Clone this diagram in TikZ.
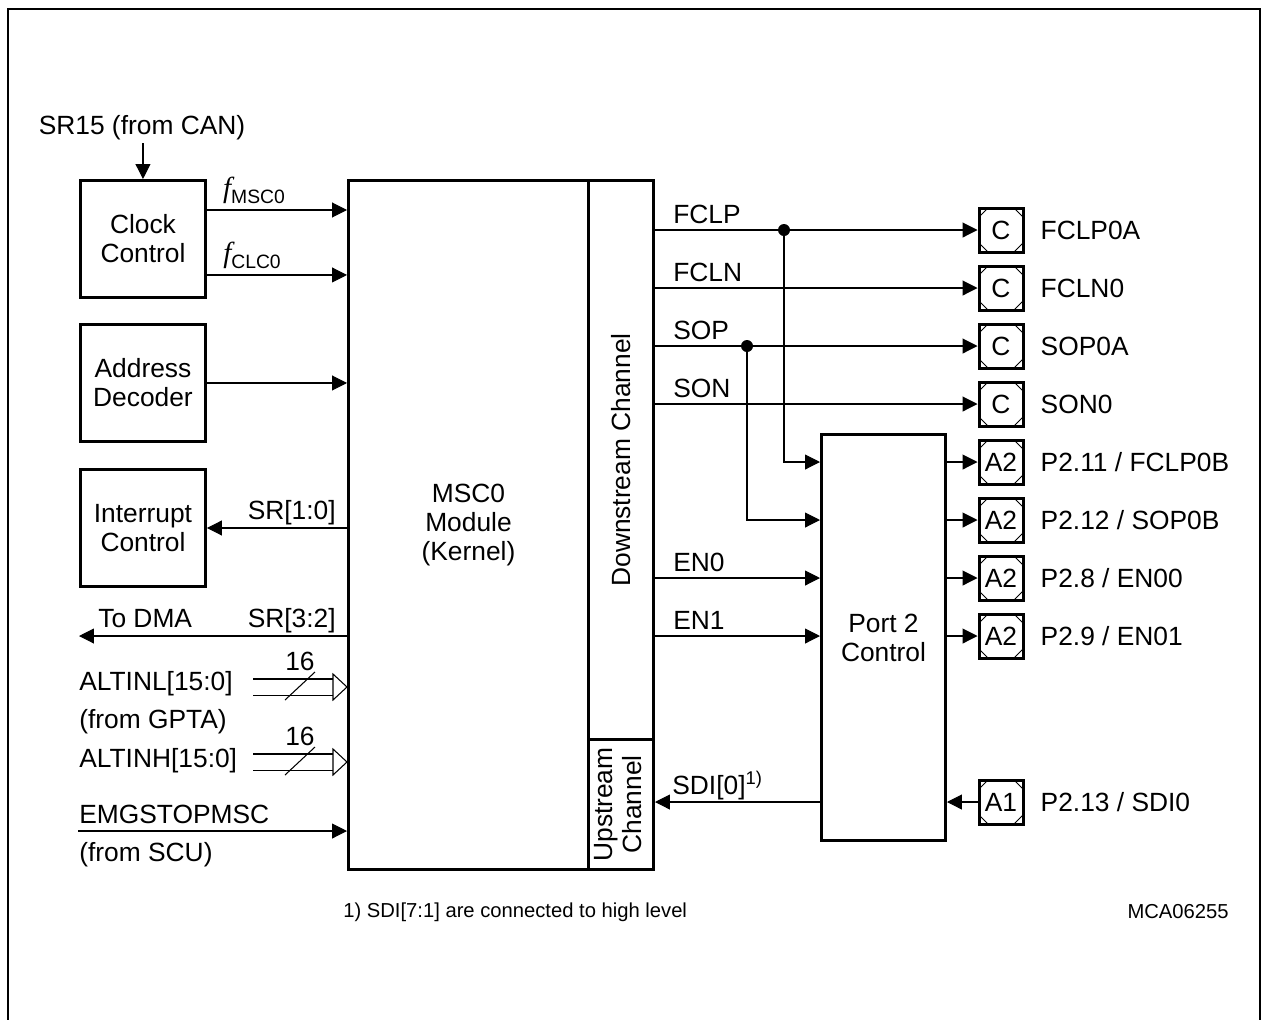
\documentclass[tikz,border=0pt]{standalone}
\usepackage{fontspec}
\setmainfont{Liberation Sans}
\newfontfamily\fserif{Liberation Serif}
\usepackage{tikz}
\usetikzlibrary{
  arrows.meta,
  positioning,
  calc
}
\newcommand{\mscfont}{\fontsize{15}{16.5}\selectfont}
\newcommand{\notefont}{\fontsize{11.5}{13}\selectfont}
\newcommand{\fclk}[1]{{\fserif\itshape\fontsize{16.5}{16.5}\selectfont f}\raisebox{-0.45ex}{\fontsize{11}{11}\selectfont #1}}
\tikzset{
  mscnode/.style={
    draw, line width=1.7pt, align=center, inner sep=0pt, font=\mscfont
  },
  blockbox/.style={mscnode, minimum width=2.5cm, minimum height=2.34cm, anchor=north west},
  padbox/.style={
    draw, line width=1.7pt, minimum size=0.88cm, inner sep=0pt, font=\mscfont,
    path picture={
      \draw[line width=0.5pt] ([yshift=-0.18cm]path picture bounding box.north west) -- ([xshift=0.18cm]path picture bounding box.north west);
      \draw[line width=0.5pt] ([yshift=-0.18cm]path picture bounding box.north east) -- ([xshift=-0.18cm]path picture bounding box.north east);
      \draw[line width=0.5pt] ([yshift=0.18cm]path picture bounding box.south west) -- ([xshift=0.18cm]path picture bounding box.south west);
      \draw[line width=0.5pt] ([yshift=0.18cm]path picture bounding box.south east) -- ([xshift=-0.18cm]path picture bounding box.south east);
    },
    label={[font=\mscfont, label distance=0.2cm]right:#1}
  },
  wire/.style={line width=0.6pt},
  sig/.style={wire, -{Triangle[length=0.3cm, width=0.3cm]}},
  bus/.style={wire, double, double distance=0.3cm},
  junction/.style={circle, fill, inner sep=0pt, minimum size=0.24cm},
  tag/.style={font=\mscfont, inner sep=0pt},
  note/.style={font=\notefont, inner sep=0pt},
  frame/.style={line width=1.1pt}
}

\begin{document}
\begin{tikzpicture}[x=0.02cm, y=-0.02cm]
  \useasboundingbox (0,0) rectangle (1261,1019);
  \draw[frame] (8,1030) -- (8,9) -- (1260,9) -- (1260,1030);

  \node[blockbox] (clk) at (79,179) {Clock\\Control};
  \node[blockbox] (adr) at (79,323) {Address\\Decoder};
  \node[blockbox] (int) at (79,468) {Interrupt\\Control};
  \node[mscnode, anchor=north west, minimum width=4.8cm, minimum height=13.78cm] (msc) at (347,179) {MSC0\\Module\\(Kernel)};
  \node[mscnode, anchor=north west, minimum width=1.3cm, minimum height=11.18cm] (dsc) at (587,179) {\rotatebox{90}{Downstream Channel}};
  \node[mscnode, anchor=north west, minimum width=1.3cm, minimum height=2.6cm] (usc) at (587,738) {\rotatebox{90}{\begin{tabular}{@{}c@{}}Upstream\\Channel\end{tabular}}};
  \node[mscnode, anchor=north west, minimum width=2.48cm, minimum height=8.12cm] (prt) at (820,433) {Port 2\\Control};

  \node[padbox=FCLP0A] (padFclp) at (1001,230) {C};
  \node[padbox=FCLN0] (padFcln) at (1001,288) {C};
  \node[padbox=SOP0A] (padSop) at (1001,346) {C};
  \node[padbox=SON0] (padSon) at (1001,404) {C};
  \node[padbox=P2.11 / FCLP0B] (padP211) at (1001,462) {A2};
  \node[padbox=P2.12 / SOP0B] (padP212) at (1001,520) {A2};
  \node[padbox=P2.8 / EN00] (padP28) at (1001,578) {A2};
  \node[padbox=P2.9 / EN01] (padP29) at (1001,636) {A2};
  \node[padbox=P2.13 / SDI0] (padP213) at (1001,802) {A1};

  \node[tag, anchor=south] (sr15) at (142,140) {SR15 (from CAN)};
  \draw[sig] (clk.north |- sr15.south) ++(0,3) -- (clk.north);

  \coordinate (fMsc) at ([yshift=0.58cm]clk.east);
  \coordinate (fClc) at ([yshift=-0.72cm]clk.east);
  \draw[sig] (fMsc) -- (fMsc -| msc.west);
  \draw[sig] (fClc) -- (fClc -| msc.west);
  \node[tag, anchor=south] (lMsc) at (254,204) {\fclk{MSC0}};
  \node[tag, anchor=south] (lClc) at (252,269) {\fclk{CLC0}};

  \draw[sig] (adr.east) -- (adr.east -| msc.west);
  \draw[sig] (int.east -| msc.west) -- (int.east);
  \node[tag, anchor=base east] (lSr10) at (336,519) {SR[1:0]};

  \coordinate (dma) at (79,636);
  \draw[sig] (dma -| msc.west) -- (dma);
  \node[tag, anchor=base west] (lDma) at (98,627) {To DMA};
  \node[tag, anchor=base east] (lSr32) at (336,627) {SR[3:2]};

  \node[tag, anchor=west] (altl) at (79,684) {ALTINL[15:0]};
  \node[tag, anchor=west] (gpta) at (79,722) {(from GPTA)};
  \node[tag, anchor=west] (alth) at (79,761) {ALTINH[15:0]};
  \coordinate (busL) at (253,687);
  \coordinate (busH) at (253,762);
  \foreach \b in {busL, busH} {
    \draw[bus] (\b) -- ([xshift=-0.28cm]\b -| msc.west);
    \draw[wire, fill=white, line join=miter] (\b -| msc.west) -- ++(-14,-13) -- ++(0,26) -- cycle;
    \draw[wire] ([shift={(32,13)}]\b) -- ([shift={(62,-15)}]\b);
    \node[tag] at ([shift={(47,-26)}]\b) {16};
  }

  \node[tag, anchor=base west] (emg) at (79,823) {EMGSTOPMSC};
  \node[tag, anchor=west] (scu) at (79,855) {(from SCU)};
  \coordinate (emgIn) at (78,831);
  \draw[sig] (emgIn) -- (emgIn -| msc.west);

  \draw[sig] (dsc.east |- padFclp) -- (padFclp.west);
  \draw[sig] (dsc.east |- padFcln) -- (padFcln.west);
  \draw[sig] (dsc.east |- padSop) -- (padSop.west);
  \draw[sig] (dsc.east |- padSon) -- (padSon.west);
  \node[tag, anchor=base west] (lFclp) at (673,223) {FCLP};
  \node[tag, anchor=base west] (lFcln) at (673,281) {FCLN};
  \node[tag, anchor=base west] (lSop) at (673,339) {SOP};
  \node[tag, anchor=base west] (lSon) at (673,397) {SON};
  \node[junction] (jFclp) at (784,230) {};
  \node[junction] (jSop) at (747,346) {};
  \draw[sig] (jFclp) |- (prt.west |- padP211);
  \draw[sig] (jSop) |- (prt.west |- padP212);
  \draw[sig] (dsc.east |- padP28) -- (prt.west |- padP28);
  \draw[sig] (dsc.east |- padP29) -- (prt.west |- padP29);
  \node[tag, anchor=base west] (lEn0) at (673,571) {EN0};
  \node[tag, anchor=base west] (lEn1) at (673,629) {EN1};

  \draw[sig] (prt.east |- padP211) -- (padP211.west);
  \draw[sig] (prt.east |- padP212) -- (padP212.west);
  \draw[sig] (prt.east |- padP28) -- (padP28.west);
  \draw[sig] (prt.east |- padP29) -- (padP29.west);
  \draw[sig] (padP213.west) -- (prt.east |- padP213);
  \draw[sig] (prt.west |- padP213) -- (usc.east |- padP213);
  \node[tag, anchor=base west] (lSdi) at (672,794) {SDI[0]\textsuperscript{1)}};

  \node[note, anchor=west] (fn) at (343,912) {1) SDI[7:1] are connected to high level};
  \node[note, anchor=east] (docId) at (1229,912) {MCA06255};
\end{tikzpicture}
\end{document}
